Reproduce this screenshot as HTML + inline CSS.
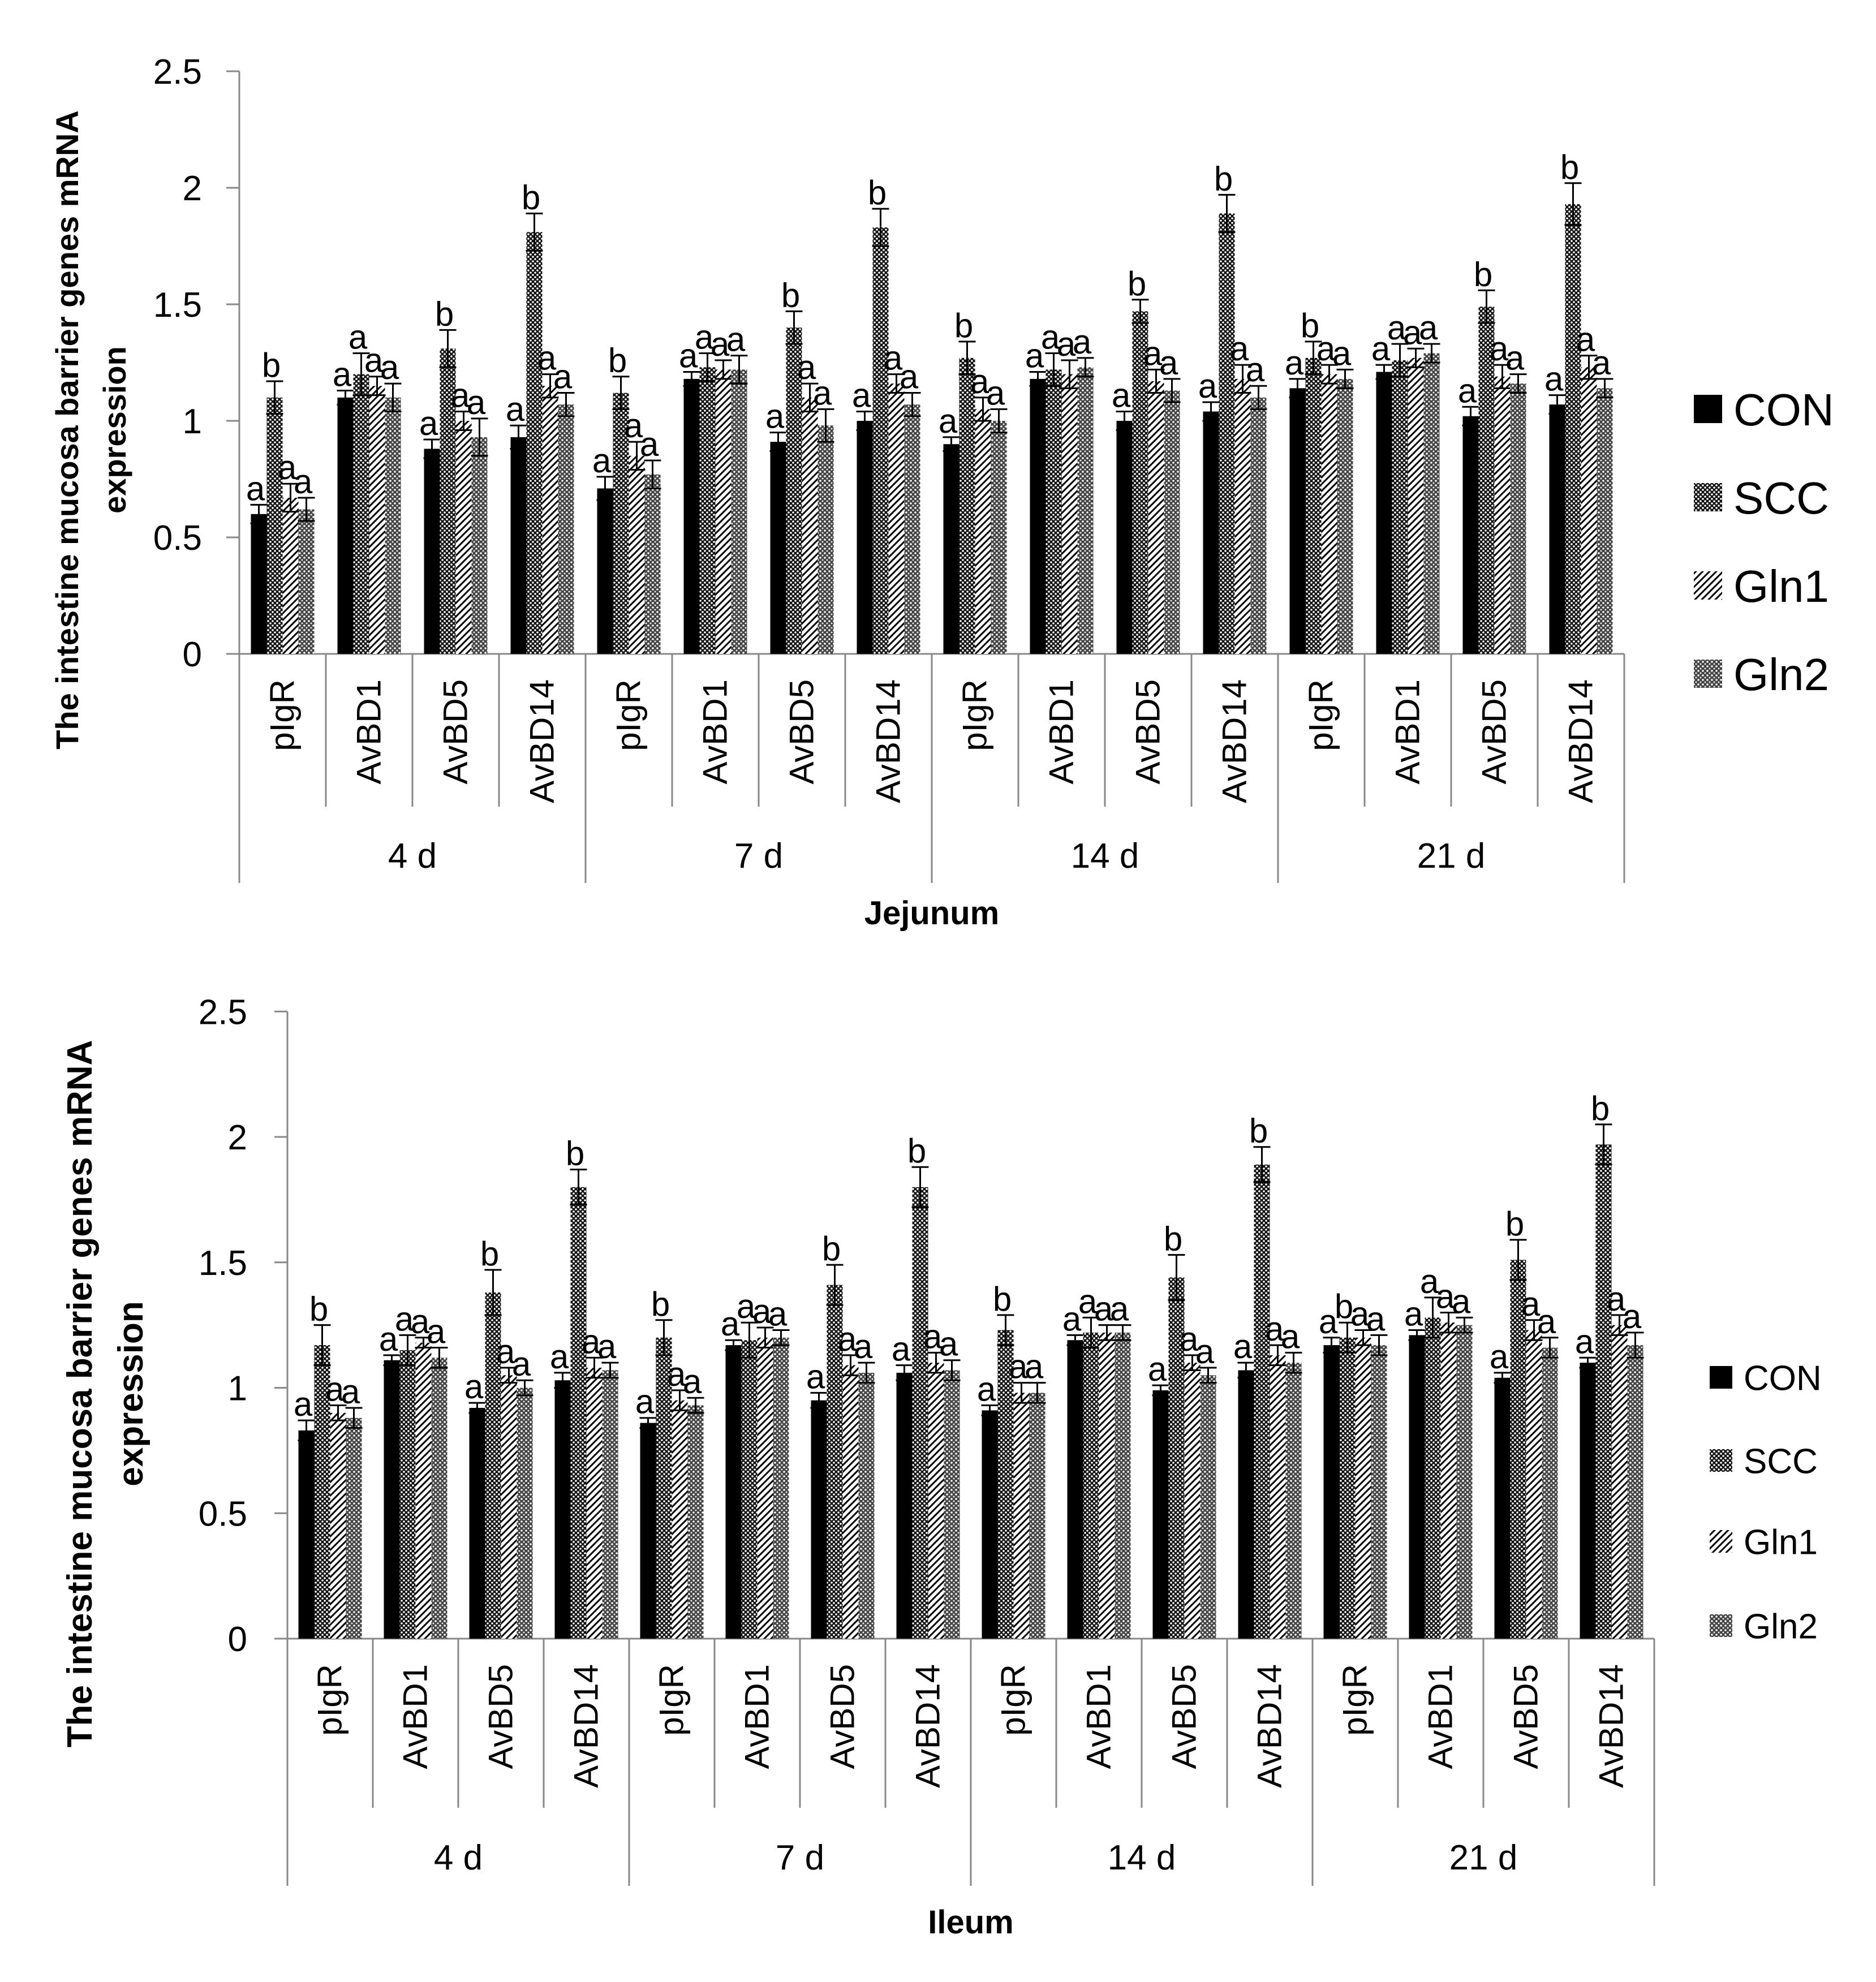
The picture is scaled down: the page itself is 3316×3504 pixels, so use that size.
<!DOCTYPE html>
<html><head><meta charset="utf-8"><style>
html,body{margin:0;padding:0;background:#fff;}
svg{display:block;font-family:"Liberation Sans",sans-serif;}
</style></head><body>
<svg id="fig" width="3316" height="3504" viewBox="0 0 3316 3504" xmlns="http://www.w3.org/2000/svg">
<defs>
<pattern id="pSCC" width="8" height="8" patternUnits="userSpaceOnUse"><rect width="8" height="8" fill="#111"/><circle cx="2" cy="2" r="1.8" fill="#fff"/><circle cx="6" cy="6" r="1.8" fill="#fff"/></pattern>
<pattern id="pGln1" width="12" height="12" patternUnits="userSpaceOnUse"><rect width="12" height="12" fill="#fff"/><path d="M-3,3 L3,-3 M0,12 L12,0 M9,15 L15,9" stroke="#000" stroke-width="3"/></pattern>
<pattern id="pGln2" width="8" height="8" patternUnits="userSpaceOnUse"><rect width="8" height="8" fill="#444"/><circle cx="2" cy="2" r="1.8" fill="#fff"/><circle cx="6" cy="6" r="1.5" fill="#eee"/></pattern>
</defs>
<g id="top"></g>
<g id="bot"></g>
</svg>
<script>
const days = ["4 d","7 d","14 d","21 d"];
const genes = ["pIgR","AvBD1","AvBD5","AvBD14"];
const seriesNames = ["CON","SCC","Gln1","Gln2"];
const yTicks = ["0","0.5","1","1.5","2","2.5"];
const sccLetters = ["b","a","b","b"];
// Jejunum values (16 groups each)
const jejCON = [0.60,1.10,0.88,0.93, 0.71,1.18,0.91,1.00, 0.90,1.18,1.00,1.04, 1.14,1.21,1.02,1.07];
const jejSCC = [1.10,1.20,1.31,1.81, 1.12,1.23,1.40,1.83, 1.27,1.22,1.47,1.89, 1.27,1.26,1.49,1.93];
const jejGln1 = [0.67,1.15,1.00,1.15, 0.85,1.22,1.10,1.16, 1.05,1.20,1.17,1.18, 1.20,1.27,1.19,1.23];
const jejGln2 = [0.62,1.10,0.93,1.07, 0.77,1.22,0.98,1.07, 1.00,1.23,1.13,1.10, 1.18,1.29,1.16,1.14];
const jejCONerr = [0.64,1.13,0.92,0.98, 0.76,1.21,0.95,1.04, 0.93,1.21,1.04,1.08, 1.18,1.24,1.06,1.11];
const jejSCCerr = [1.17,1.29,1.39,1.89, 1.19,1.29,1.47,1.91, 1.34,1.29,1.52,1.97, 1.34,1.33,1.56,2.02];
const jejGln1err = [0.73,1.19,1.04,1.20, 0.91,1.26,1.16,1.20, 1.10,1.26,1.22,1.24, 1.24,1.31,1.24,1.28];
const jejGln2err = [0.67,1.16,1.01,1.12, 0.83,1.28,1.05,1.12, 1.05,1.27,1.18,1.15, 1.22,1.33,1.20,1.18];
// Ileum values
const ilCON = [0.83,1.11,0.92,1.03, 0.86,1.17,0.95,1.06, 0.91,1.19,0.99,1.07, 1.17,1.21,1.04,1.10];
const ilSCC = [1.17,1.15,1.38,1.80, 1.20,1.19,1.41,1.80, 1.23,1.22,1.44,1.89, 1.20,1.28,1.51,1.97];
const ilGln1 = [0.90,1.18,1.05,1.08, 0.95,1.20,1.09,1.10, 0.98,1.22,1.10,1.13, 1.20,1.26,1.23,1.25];
const ilGln2 = [0.88,1.12,1.00,1.07, 0.93,1.20,1.06,1.07, 0.98,1.22,1.05,1.10, 1.17,1.25,1.16,1.17];
const ilCONerr = [0.87,1.13,0.94,1.06, 0.88,1.19,0.98,1.09, 0.93,1.21,1.01,1.10, 1.20,1.23,1.06,1.12];
const ilSCCerr = [1.25,1.21,1.47,1.87, 1.27,1.26,1.49,1.88, 1.29,1.28,1.53,1.96, 1.26,1.36,1.59,2.05];
const ilGln1err = [0.93,1.20,1.08,1.12, 0.99,1.24,1.13,1.14, 1.02,1.25,1.13,1.17, 1.23,1.30,1.27,1.29];
const ilGln2err = [0.92,1.16,1.03,1.10, 0.96,1.23,1.10,1.11, 1.02,1.25,1.08,1.14, 1.21,1.28,1.20,1.22];

const NS="http://www.w3.org/2000/svg";
function mk(parent,tag,attrs,text){const e=document.createElementNS(NS,tag);for(const k in attrs)e.setAttribute(k,attrs[k]);if(text!==undefined)e.textContent=text;parent.appendChild(e);return e;}
const fills=["#000","url(#pSCC)","url(#pGln1)","url(#pGln2)"];

function draw(g,c,vals,errs){
  const yS=v=>c.y0-v*c.unit;
  const gw=c.gw, bw=28;
  let e=mk(g,'line',{x1:c.ax,y1:yS(2.5),x2:c.ax,y2:c.y0,stroke:'#888','stroke-width':3});
  
  
  yTicks.forEach((t,i)=>{
    const v=parseFloat(t);
    let tk=mk(g,'line',{x1:c.ax-23,y1:yS(v),x2:c.ax,y2:yS(v),stroke:'#888','stroke-width':3});
    
    
    let tl=mk(g,'text',{x:c.tickRight,y:yS(v)+22,'text-anchor':'end','font-size':62},t);
    
    
  });
  const right=c.ax+16*gw;
  let xa=mk(g,'line',{x1:c.ax-23,y1:c.y0,x2:right,y2:c.y0,stroke:'#888','stroke-width':3});
  
  
  for(let i=0;i<=16;i++){
    const x=c.ax+i*gw;
    const long=(i%4===0);
    let s=mk(g,'line',{x1:x,y1:c.y0,x2:x,y2:long?c.outerBot:c.innerBot,stroke:'#888','stroke-width':3});
    
    
  }
  days.forEach((d,di)=>{
    let t=mk(g,'text',{x:c.ax+(di*4+2)*gw,y:c.dayY,'text-anchor':'middle','font-size':62},d);
    
    
    genes.forEach((gn,gi)=>{
      const cx=c.ax+(di*4+gi+0.5)*gw+20;
      let l=mk(g,'text',{x:0,y:0,'text-anchor':'end','font-size':60,transform:`translate(${cx},${c.y0+45}) rotate(-90)`},gn);
      
      
    });
  });
  for(let k=0;k<16;k++){
    const gc=c.ax+(k+0.5)*gw;
    for(let s=0;s<4;s++){
      const v=vals[s][k], et=errs[s][k], se=et-v;
      const x=gc-2*bw+s*bw;
      let r=mk(g,'rect',{x:x,y:yS(v),width:bw,height:v*c.unit,fill:fills[s]});
      
      
      const bx=x+bw/2;
      let eb=mk(g,'path',{d:`M${bx},${yS(v-se)}V${yS(et)}M${bx-15},${yS(et)}H${bx+15}M${bx-15},${yS(v-se)}H${bx+15}`,stroke:'#000','stroke-width':3,fill:'none'});
      
      
      const letter=s===1?sccLetters[k%4]:'a';
      let lt=mk(g,'text',{x:bx-6,y:yS(et)-8,'text-anchor':'middle','font-size':60},letter);
      
      
    }
  }
  let yt=mk(g,'text',{x:0,y:0,'text-anchor':'middle','font-size':c.ytSize,'font-weight':'bold',transform:`translate(${c.yt1},${c.ytY}) rotate(-90)`},'The intestine mucosa barrier genes mRNA');
  
  
  let yt2=mk(g,'text',{x:0,y:0,'text-anchor':'middle','font-size':c.ytSize,'font-weight':'bold',transform:`translate(${c.yt2},${c.ytY}) rotate(-90)`},'expression');
  
  
  let xt=mk(g,'text',{x:(c.ax+right)/2,y:c.xtY,'text-anchor':'middle','font-size':58,'font-weight':'bold'},c.xTitle);
  
  
  seriesNames.forEach((n,i)=>{
    const y=c.legY[i];
    let sw=mk(g,'rect',{x:c.legX,y:y-c.sw/2,width:c.sw,height:c.sw,fill:fills[i]});
    
    
    let lt=mk(g,'text',{x:c.legX+c.sw+20,y:y+c.legFont*0.36,'font-size':c.legFont},n);
    
    
  });
}
draw(document.getElementById('top'),{ax:423,y0:1156,unit:412,gw:153,tickRight:357,innerBot:1426,outerBot:1561,dayY:1534,
  yt1:138,yt2:222,ytY:760,ytSize:56,xtY:1634,xTitle:'Jejunum',legX:2994,sw:50,legFont:80,legY:[723,879,1035,1191]},
  [jejCON,jejSCC,jejGln1,jejGln2],[jejCONerr,jejSCCerr,jejGln1err,jejGln2err]);
draw(document.getElementById('bot'),{ax:508,y0:2897,unit:443.5,gw:151,tickRight:437,innerBot:3196,outerBot:3334,dayY:3305,
  yt1:162,yt2:252,ytY:2464,ytSize:62,xtY:3418,xTitle:'Ileum',legX:3022,sw:40,legFont:62,legY:[2435,2582,2725,2874]},
  [ilCON,ilSCC,ilGln1,ilGln2],[ilCONerr,ilSCCerr,ilGln1err,ilGln2err]);
</script>
</body></html>
